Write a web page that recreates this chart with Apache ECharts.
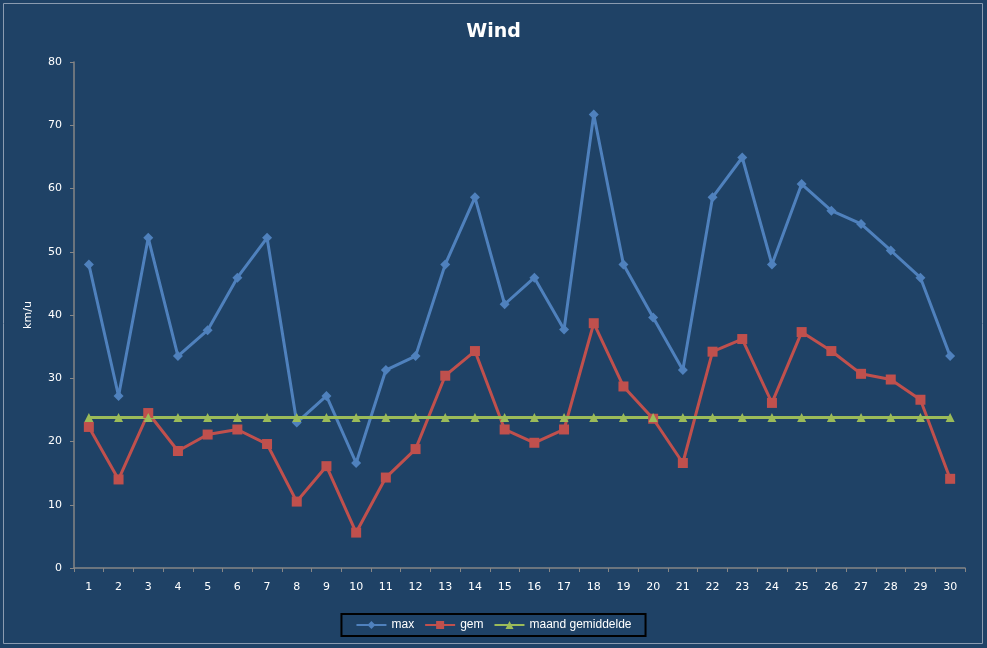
<!DOCTYPE html>
<html>
<head>
<meta charset="utf-8">
<script src="https://cdn.jsdelivr.net/npm/echarts@6/dist/echarts.min.js"></script>
<style>
  html, body { margin: 0; padding: 0; background: #ffffff; }
  #chart { width: 987px; height: 648px; }
</style>
</head>
<body>
<div id="chart"></div>
<script>
// dagen van de maand
var days = [];
for (var d = 1; d <= 30; d++) days.push(String(d));

var maxWind = [48, 27.2, 52.2, 33.5, 37.6, 45.9, 52.2, 23, 27.2, 16.6,
               31.3, 33.5, 48, 58.6, 41.7, 45.9, 37.7, 71.7, 48, 39.6,
               31.3, 58.6, 64.9, 48, 60.7, 56.5, 54.4, 50.2, 45.9, 33.5];
var gemWind = [22.3, 14, 24.5, 18.5, 21.1, 21.9, 19.6, 10.5, 16.1, 5.6,
               14.3, 18.8, 30.4, 34.3, 21.9, 19.8, 21.9, 38.7, 28.7, 23.6,
               16.6, 34.2, 36.2, 26.1, 37.3, 34.3, 30.7, 29.8, 26.6, 14.1];
var maandGem = [];
for (var i = 0; i < 30; i++) maandGem.push(23.8);

var chart = echarts.init(document.getElementById('chart'));

var option = {
  backgroundColor: '#1F4266',
  animation: false,
  title: {
    text: 'Wind',
    left: 'center',
    top: 18,
    textStyle: { color: '#ffffff', fontSize: 19, fontWeight: 'bold', fontFamily: 'DejaVu Sans' }
  },
  graphic: [{
    type: 'rect',
    shape: { x: 3.5, y: 3.5, width: 979, height: 640 },
    style: { fill: 'none', stroke: '#8a9bb0', lineWidth: 1 }
  }],
  legend: {
    bottom: 12,
    left: 'center',
    padding: [5, 14, 5, 14],
    itemGap: 10,
    itemWidth: 30,
    itemHeight: 10,
    borderColor: '#000000',
    borderWidth: 2,
    textStyle: { color: '#ffffff', fontSize: 12, fontFamily: 'Liberation Sans' },
    data: ['max', 'gem', 'maand gemiddelde']
  },
  grid: { left: 74, right: 22, top: 62, bottom: 80 },
  xAxis: {
    type: 'category',
    data: days,
    boundaryGap: true,
    axisLine: { lineStyle: { color: '#868686', width: 1.5 } },
    axisTick: { show: true, length: 4, lineStyle: { color: '#868686' } },
    axisLabel: { color: '#ffffff', fontSize: 11, margin: 14, fontFamily: 'DejaVu Sans' },
    splitLine: { show: false }
  },
  yAxis: {
    type: 'value',
    min: 0,
    max: 80,
    interval: 10,
    name: 'km/u',
    nameLocation: 'middle',
    nameGap: 40,
    nameTextStyle: { color: '#ffffff', fontSize: 11, fontFamily: 'DejaVu Sans' },
    axisLine: { show: true, lineStyle: { color: '#868686', width: 1.5 } },
    axisTick: { show: true, length: 4, lineStyle: { color: '#868686' } },
    axisLabel: { color: '#ffffff', fontSize: 11, margin: 12, fontFamily: 'DejaVu Sans' },
    splitLine: { show: false }
  },
  series: [
    {
      name: 'max',
      type: 'line',
      data: maxWind,
      symbol: 'diamond',
      symbolSize: 10,
      lineStyle: { color: '#4F81BD', width: 3 },
      itemStyle: { color: '#4F81BD' }
    },
    {
      name: 'gem',
      type: 'line',
      data: gemWind,
      symbol: 'rect',
      symbolSize: 10,
      lineStyle: { color: '#C0504D', width: 3 },
      itemStyle: { color: '#C0504D' }
    },
    {
      name: 'maand gemiddelde',
      type: 'line',
      data: maandGem,
      symbol: 'triangle',
      symbolSize: 9,
      lineStyle: { color: '#9BBB59', width: 3 },
      itemStyle: { color: '#9BBB59' }
    }
  ]
};

chart.setOption(option);
</script>
</body>
</html>
